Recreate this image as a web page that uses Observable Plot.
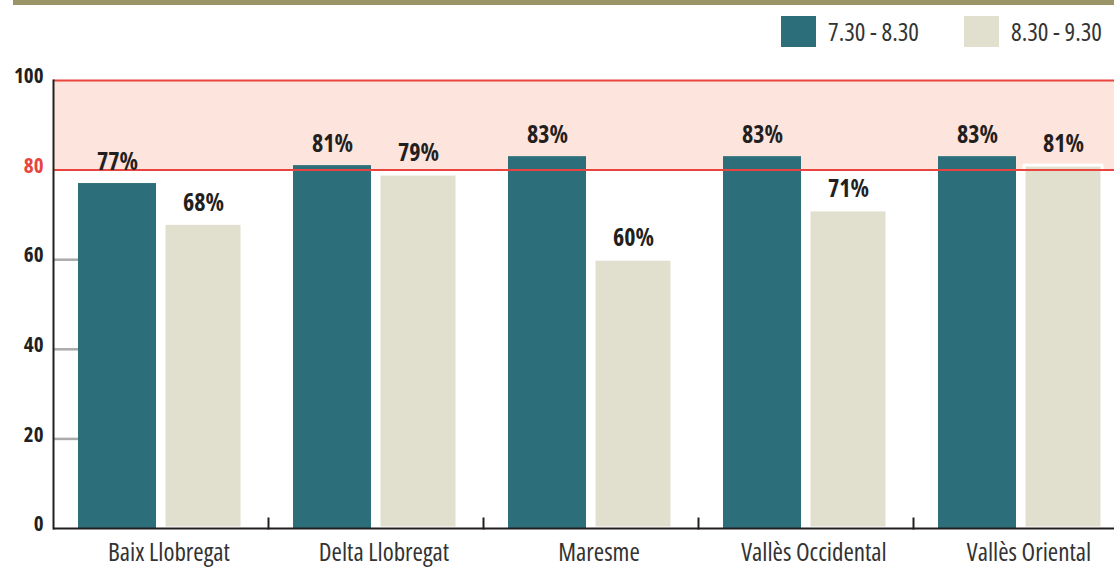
<!DOCTYPE html>
<html><head><meta charset="utf-8">
<script src="https://cdn.jsdelivr.net/npm/d3@7"></script>
<script src="https://cdn.jsdelivr.net/npm/@observablehq/plot@0.6"></script>
<style>
body{margin:0;background:#fff;overflow:hidden}
#wrap{position:relative;width:1114px;height:567px;overflow:hidden;font-family:"Open Sans","DejaVu Sans Condensed",sans-serif}
#head{position:relative;height:60px}
#topbar{position:absolute;left:13px;top:0;width:1101px;height:5px;background:#9b9466}
.sw{position:absolute;top:16px;width:35px;height:31px}
.lt{position:absolute;top:16px;line-height:31px;font-size:25px;font-stretch:75%;color:#333;white-space:nowrap}
#chart svg text{font-family:"Open Sans","DejaVu Sans Condensed",sans-serif;font-stretch:75%}
#chart svg{display:block;max-width:none !important}
</style></head>
<body>
<div id="wrap">
  <div id="head">
    <div id="topbar"></div>
    <div class="sw" id="sw0" style="left:781px"></div><div class="lt" id="lt0" style="left:828px"></div>
    <div class="sw" id="sw1" style="left:964px"></div><div class="lt" id="lt1" style="left:1011px"></div>
  </div>
  <div id="chart"></div>
</div>
<script>
const categories = ["Baix Llobregat", "Delta Llobregat", "Maresme", "Vallès Occidental", "Vallès Oriental"];
const series = ["7.30 - 8.30", "8.30 - 9.30"];
const early = [77, 81, 83, 83, 83];
const late = [68, 79, 60, 71, 81];
const yTicks = [0, 20, 40, 60, 80, 100];
const threshold = 80;
const yMax = 100;
const colors = ["#2c6f7b", "#e1e0cf"];

const data = categories.flatMap((c, i) => [
  {cat: c, series: series[0], value: early[i]},
  {cat: c, series: series[1], value: late[i]}
]);

series.forEach((s, i) => {
  document.getElementById("sw" + i).style.background = colors[i];
  document.getElementById("lt" + i).textContent = s;
});

const font = '"Open Sans","DejaVu Sans Condensed",sans-serif';

const chart = Plot.plot({
  width: 1128,
  height: 507,
  marginTop: 20,
  marginBottom: 39,
  marginLeft: 53,
  marginRight: 0,
  style: {fontFamily: font, background: "transparent", overflow: "visible", maxWidth: "none"},
  fx: {domain: categories, padding: 0, label: null},
  x: {domain: series, paddingInner: 0.093, paddingOuter: 0.2965, axis: null},
  y: {domain: [0, yMax], label: null},
  color: {domain: series, range: colors},
  marks: [
    Plot.rect([0], {y1: () => threshold, y2: () => yMax, fill: "#fde4dc", shapeRendering: "crispEdges"}),
    Plot.axisY({ticks: yTicks.filter(t => t !== threshold && t !== yMax && t !== 0), tickSize: -26, tickFormat: () => "", stroke: "#aaaaaa", strokeWidth: 2.5, label: null}),
    Plot.barY(data.filter(d => d.series === series[0]), {fx: "cat", x: "series", y: "value", fill: "series"}),
    Plot.barY(data.filter(d => d.series === series[1]), {fx: "cat", x: "series", y: "value", fill: "series", stroke: "white", strokeWidth: 3}),
    Plot.ruleY([threshold, yMax], {stroke: "#e9443d", strokeWidth: 2}),
    Plot.ruleY([0], {stroke: "#231f20", strokeWidth: 2}),
    Plot.frame({anchor: "left", facetAnchor: "left", stroke: "#231f20", strokeWidth: 2}),
    Plot.frame({anchor: "right", insetTop: 438, stroke: "#231f20", strokeWidth: 2}),
    Plot.text(data, {fx: "cat", x: "series", y: "value", text: d => d.value + "%", dy: -21, fontSize: 24, fontWeight: "bold", fill: "#231f20"}),
    Plot.axisY({ticks: yTicks.filter(t => t !== threshold), tickSize: 0, tickPadding: 10, fontSize: 21, fontWeight: "bold", fill: "#231f20", dy: -4, label: null}),
    Plot.axisY({ticks: [threshold], tickSize: 0, tickPadding: 10, fontSize: 21, fontWeight: "bold", fill: "#e9443d", dy: -4, label: null}),
    Plot.axisFx({anchor: "bottom", tickSize: 0, tickPadding: 15, fontSize: 25, fill: "#333", dx: 8, label: null})
  ]
});
document.getElementById("chart").appendChild(chart);
</script>
</body></html>
